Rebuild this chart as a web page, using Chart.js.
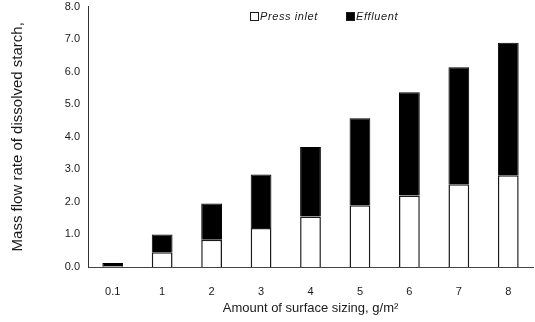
<!DOCTYPE html>
<html>
<head>
<meta charset="utf-8">
<script src="https://cdn.jsdelivr.net/npm/chart.js@4.4.1/dist/chart.umd.min.js"></script>
<style>
  html, body { margin: 0; padding: 0; background: #fff; }
  #wrap { position: relative; width: 535px; height: 322px; }
  #legend {
    position: absolute;
    left: 250px;
    top: 10px;
    font-family: 'Liberation Sans', Arial, sans-serif;
    font-size: 11px;
    font-style: italic;
    color: #1a1a1a;
    letter-spacing: 0.6px;
    white-space: nowrap;
  }
  #legend span.item { display: inline-block; margin-right: 28px; }
  #legend span.box {
    display: inline-block;
    width: 7px;
    height: 7px;
    border: 1px solid #1a1a1a;
    margin-right: 1px;
    vertical-align: -1px;
  }
</style>
</head>
<body>
<div id="wrap">
  <canvas id="chart" width="535" height="322"></canvas>
  <div id="legend"></div>
</div>
<script>
// data
const categories = ["0.1", "1", "2", "3", "4", "5", "6", "7", "8"];
const pressInlet = [0.02, 0.45, 0.84, 1.20, 1.55, 1.90, 2.20, 2.54, 2.82];
const effluent = [0.10, 0.55, 1.11, 1.64, 2.14, 2.67, 3.17, 3.60, 4.07];
const yTicks = [0, 1, 2, 3, 4, 5, 6, 7, 8];

const FONT = "'Liberation Sans', Arial, sans-serif";
const INK = "#1a1a1a";

const chart = new Chart(document.getElementById("chart"), {
  type: "bar",
  data: {
    labels: categories,
    datasets: [
      {
        label: "Press inlet",
        data: pressInlet,
        backgroundColor: "#ffffff",
        borderColor: INK,
        borderWidth: 1.5
      },
      {
        label: "Effluent",
        data: effluent,
        backgroundColor: "#000000",
        borderColor: "#000000",
        borderWidth: 1
      }
    ]
  },
  options: {
    responsive: false,
    animation: false,
    barPercentage: 0.42,
    categoryPercentage: 1,
    layout: {
      padding: { top: 0, right: 2, left: 0, bottom: 0 }
    },
    plugins: {
      tooltip: { enabled: false },
      legend: { display: false }
    },
    scales: {
      x: {
        stacked: true,
        grid: { display: false },
        border: { display: true, color: "#444", width: 1 },
        ticks: {
          color: INK,
          padding: 10,
          font: { family: FONT, size: 11 }
        },
        title: {
          display: true,
          text: "Amount of surface sizing, g/m²",
          color: INK,
          padding: { top: 6, bottom: 6 },
          font: { family: FONT, size: 13 }
        },
        afterFit: (scale) => { scale.height = 55; }
      },
      y: {
        stacked: true,
        min: 0,
        max: 8,
        grid: { display: false },
        border: { display: true, color: "#333", width: 1 },
        afterBuildTicks: (scale) => {
          scale.ticks = yTicks.map(v => ({ value: v }));
        },
        ticks: {
          color: INK,
          padding: 0,
          font: { family: FONT, size: 11 },
          callback: (value) => Number(value).toFixed(1)
        },
        title: {
          display: true,
          text: "Mass flow rate of dissolved starch,",
          color: INK,
          padding: { top: 9, bottom: 9 },
          font: { family: FONT, size: 15 }
        },
        afterFit: (scale) => { scale.width = 88; }
      }
    }
  }
});

// legend as html, built from the datasets
const legendEl = document.getElementById("legend");
chart.data.datasets.forEach((ds) => {
  const item = document.createElement("span");
  item.className = "item";
  const box = document.createElement("span");
  box.className = "box";
  box.style.background = ds.backgroundColor;
  item.appendChild(box);
  item.appendChild(document.createTextNode(ds.label));
  legendEl.appendChild(item);
});
</script>
</body>
</html>
